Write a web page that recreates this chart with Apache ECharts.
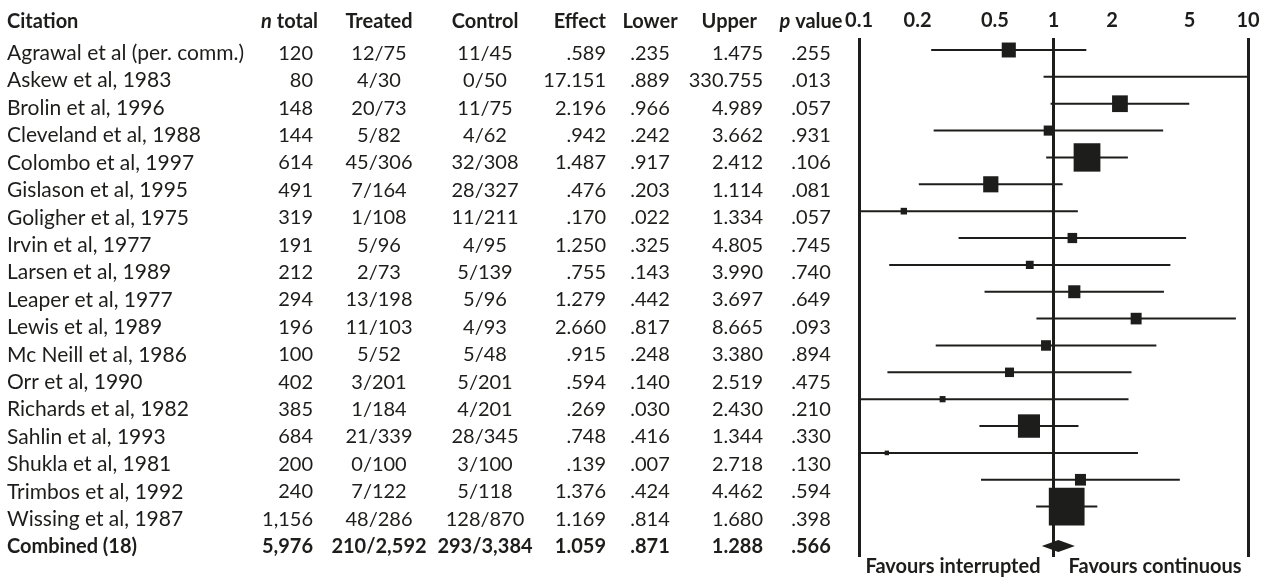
<!DOCTYPE html>
<html>
<head>
<meta charset="utf-8">
<title>Forest plot: interrupted vs continuous</title>
<script src="https://cdn.jsdelivr.net/npm/echarts@6/dist/echarts.min.js"></script>
<style>
  html, body { margin: 0; padding: 0; background: #ffffff; }
  #chart { width: 1263px; height: 577px; }
</style>
</head>
<body>
<div id="chart"></div>
<script>
// ---- Study data -----------------------------------------------------------
const citations = [
  'Agrawal et al (per. comm.)', 'Askew et al, 1983', 'Brolin et al, 1996',
  'Cleveland et al, 1988', 'Colombo et al, 1997', 'Gislason et al, 1995',
  'Goligher et al, 1975', 'Irvin et al, 1977', 'Larsen et al, 1989',
  'Leaper et al, 1977', 'Lewis et al, 1989', 'Mc Neill et al, 1986',
  'Orr et al, 1990', 'Richards et al, 1982', 'Sahlin et al, 1993',
  'Shukla et al, 1981', 'Trimbos et al, 1992', 'Wissing et al, 1987'
];
const nTotal        = [120, 80, 148, 144, 614, 491, 319, 191, 212, 294, 196, 100, 402, 385, 684, 200, 240, 1156];
const treatedEvents = [12, 4, 20, 5, 45, 7, 1, 5, 2, 13, 11, 5, 3, 1, 21, 0, 7, 48];
const treatedN      = [75, 30, 73, 82, 306, 164, 108, 96, 73, 198, 103, 52, 201, 184, 339, 100, 122, 286];
const controlEvents = [11, 0, 11, 4, 32, 28, 11, 4, 5, 5, 4, 5, 5, 4, 28, 3, 5, 128];
const controlN      = [45, 50, 75, 62, 308, 327, 211, 95, 139, 96, 93, 48, 201, 201, 345, 100, 118, 870];
const effect = [0.589, 17.151, 2.196, 0.942, 1.487, 0.476, 0.170, 1.250, 0.755, 1.279, 2.660, 0.915, 0.594, 0.269, 0.748, 0.139, 1.376, 1.169];
const lower  = [0.235, 0.889, 0.966, 0.242, 0.917, 0.203, 0.022, 0.325, 0.143, 0.442, 0.817, 0.248, 0.140, 0.030, 0.416, 0.007, 0.424, 0.814];
const upper  = [1.475, 330.755, 4.989, 3.662, 2.412, 1.114, 1.334, 4.805, 3.990, 3.697, 8.665, 3.380, 2.519, 2.430, 1.344, 2.718, 4.462, 1.680];
const pValue = [0.255, 0.013, 0.057, 0.931, 0.106, 0.081, 0.057, 0.745, 0.740, 0.649, 0.093, 0.894, 0.475, 0.210, 0.330, 0.130, 0.594, 0.398];

// Pooled estimate
const pooledLabel = 'Combined (18)';
const pooledN = 5976;
const pooledTreated = [210, 2592];
const pooledControl = [293, 3384];
const pooledEffect = 1.059;
const pooledLower = 0.871;
const pooledUpper = 1.288;
const pooledP = 0.566;

// Odds-ratio axis
const axisTicks = [0.1, 0.2, 0.5, 1, 2, 5, 10];
const referenceLines = [0.1, 1, 10];
const favourLeft = 'Favours interrupted';
const favourRight = 'Favours continuous';

// ---- Layout & style -------------------------------------------------------
const W = 1263, H = 577;
const INK = '#1d1d1b';
const FONT_FAMILY = 'Lato, "Open Sans", "DejaVu Sans", sans-serif';
const FS = 20;
const FS_NAME = 21;
const PLOT = { left: 859, right: 1248, top: 38, bottom: 557, firstRowY: 50, rowH: 26.86, pooledGap: 1.47, favourY: 566.7 };
const TABLE = { headerY: 21.7, firstRowY: 53.3, rowH: 27.41 };
const SQUARE_K = 25.9;      // marker side ~ 1 / standard error
const SQUARE_ASPECT = 1.06;
const DIAMOND_H = 12;

// ---- Helpers --------------------------------------------------------------
const thousands = n => String(n).replace(/\B(?=(\d{3})+(?!\d))/g, ',');
const fmt3 = v => { const s = v.toFixed(3); return s.startsWith('0.') ? s.slice(1) : s; };
const frac = (a, b) => thousands(a) + '/' + thousands(b);

// ---- Table cells ----------------------------------------------------------
const columns = [
  { x: 7,   align: 'left',   header: 'Citation' },
  { x: 313, align: 'right',  header: '{i|n}{b| total}', hx: 318 },
  { x: 379, align: 'center', header: 'Treated' },
  { x: 485, align: 'center', header: 'Control' },
  { x: 606, align: 'right',  header: 'Effect' },
  { x: 650, align: 'center', header: 'Lower' },
  { x: 763, align: 'right',  header: 'Upper', hx: 757 },
  { x: 811, align: 'center', header: '{i|p}{b| value}' }
];

const rowsText = citations.map((c, i) => [
  c, thousands(nTotal[i]), frac(treatedEvents[i], treatedN[i]), frac(controlEvents[i], controlN[i]),
  fmt3(effect[i]), fmt3(lower[i]), fmt3(upper[i]), fmt3(pValue[i])
]);
rowsText.push([
  pooledLabel, thousands(pooledN), frac(pooledTreated[0], pooledTreated[1]), frac(pooledControl[0], pooledControl[1]),
  fmt3(pooledEffect), fmt3(pooledLower), fmt3(pooledUpper), fmt3(pooledP)
]);

const headerRow = (TABLE.headerY - TABLE.firstRowY) / TABLE.rowH;
const cells = [];
columns.forEach(col => {
  cells.push({ x: col.hx || col.x, row: headerRow, text: col.header, bold: true, align: col.align, rich: true, size: FS });
});
rowsText.forEach((r, i) => {
  const pooled = i === citations.length;
  r.forEach((t, j) => {
    cells.push({
      x: columns[j].x, row: i, text: t, bold: pooled, align: columns[j].align,
      size: (j === 0 && !pooled) ? FS_NAME : FS
    });
  });
});

const font = (bold, size) => (bold ? 'bold ' : '') + (size || FS) + 'px ' + FONT_FAMILY;
const richStyles = {
  i: { fontStyle: 'italic', fontWeight: 'bold', fontSize: FS, fontFamily: FONT_FAMILY, fill: INK },
  b: { fontWeight: 'bold', fontSize: FS, fontFamily: FONT_FAMILY, fill: INK }
};

// ---- Forest rows ----------------------------------------------------------
const forestData = citations.map((c, i) => [effect[i], lower[i], upper[i], i, 0]);
forestData.push([pooledEffect, pooledLower, pooledUpper, citations.length - 1 + PLOT.pooledGap, 1]);

const xMin = axisTicks[0], xMax = axisTicks[axisTicks.length - 1];
const clampX = v => Math.min(xMax, Math.max(xMin, v));

function renderForest(params, api) {
  const eff = api.value(0), lo = api.value(1), hi = api.value(2), row = api.value(3), pooled = api.value(4);
  const cs = params.coordSys;
  const pLo = api.coord([clampX(lo), row]);
  const pHi = api.coord([clampX(hi), row]);
  const pEff = api.coord([eff, row]);
  if (pooled) {
    const h = DIAMOND_H / 2;
    return {
      type: 'polygon',
      shape: { points: [[pLo[0], pLo[1]], [pEff[0], pEff[1] - h], [pHi[0], pHi[1]], [pEff[0], pEff[1] + h]] },
      style: { fill: INK }
    };
  }
  const children = [{
    type: 'line',
    shape: { x1: pLo[0], y1: pLo[1], x2: pHi[0], y2: pHi[1] },
    style: { stroke: INK, lineWidth: 2 }
  }];
  const side = SQUARE_K / Math.log(hi / lo);
  const hgt = side * SQUARE_ASPECT;
  const x0 = Math.max(cs.x, pEff[0] - side / 2), x1 = Math.min(cs.x + cs.width, pEff[0] + side / 2);
  if (x1 > x0) {
    children.push({
      type: 'rect',
      shape: { x: x0, y: pEff[1] - hgt / 2, width: x1 - x0, height: hgt },
      style: { fill: INK }
    });
  }
  return { type: 'group', children };
}

function renderCell(params, api) {
  const c = cells[params.dataIndex];
  const p = api.coord([c.x, c.row]);
  const style = { text: c.text, x: p[0], y: p[1], fill: INK, font: font(c.bold, c.size), align: c.align, verticalAlign: 'middle' };
  if (c.rich) style.rich = richStyles;
  return { type: 'text', style };
}

const favourRow = (PLOT.favourY - PLOT.firstRowY) / PLOT.rowH;
const favourLabels = [
  { text: favourLeft, align: 'right', dx: -13 },
  { text: favourRight, align: 'left', dx: 15 }
];
function renderFavour(params, api) {
  const f = favourLabels[params.dataIndex];
  const p = api.coord([1, favourRow]);
  return { type: 'text', style: { text: f.text, x: p[0] + f.dx, y: p[1], fill: INK, font: font(true), align: f.align, verticalAlign: 'middle' } };
}

// ---- Chart ----------------------------------------------------------------
const chart = echarts.init(document.getElementById('chart'), null, { renderer: 'canvas', width: W, height: H });

chart.setOption({
  animation: false,
  backgroundColor: '#ffffff',
  grid: [
    { left: PLOT.left, top: PLOT.top, width: PLOT.right - PLOT.left, height: PLOT.bottom - PLOT.top },
    { left: 0, top: 0, width: W, height: H }
  ],
  xAxis: [
    {
      gridIndex: 0, type: 'log', logBase: 10, min: xMin, max: xMax, position: 'top',
      axisLine: { show: false }, axisTick: { show: false }, splitLine: { show: false },
      axisLabel: {
        customValues: axisTicks,
        formatter: v => String(parseFloat(Number(v).toPrecision(6))),
        color: INK, fontWeight: 'bold', fontSize: FS, fontFamily: FONT_FAMILY, margin: 7
      }
    },
    { gridIndex: 1, type: 'value', min: 0, max: W, show: false }
  ],
  yAxis: [
    {
      gridIndex: 0, type: 'value', inverse: true, show: false,
      min: (PLOT.top - PLOT.firstRowY) / PLOT.rowH, max: (PLOT.bottom - PLOT.firstRowY) / PLOT.rowH
    },
    {
      gridIndex: 1, type: 'value', inverse: true, show: false,
      min: -TABLE.firstRowY / TABLE.rowH, max: (H - TABLE.firstRowY) / TABLE.rowH
    }
  ],
  series: [
    {
      type: 'custom', name: 'studies', xAxisIndex: 0, yAxisIndex: 0, silent: true,
      data: forestData, renderItem: renderForest,
      markLine: {
        silent: true, symbol: ['none', 'none'], label: { show: false },
        lineStyle: { color: INK, width: 3, type: 'solid' },
        data: referenceLines.map(v => ({ xAxis: v }))
      }
    },
    {
      type: 'custom', name: 'favours', xAxisIndex: 0, yAxisIndex: 0, silent: true,
      data: favourLabels.map(() => [1, favourRow]), renderItem: renderFavour
    },
    {
      type: 'custom', name: 'table', xAxisIndex: 1, yAxisIndex: 1, silent: true,
      data: cells.map(c => [c.x, c.row]), renderItem: renderCell
    }
  ]
});
</script>
</body>
</html>
